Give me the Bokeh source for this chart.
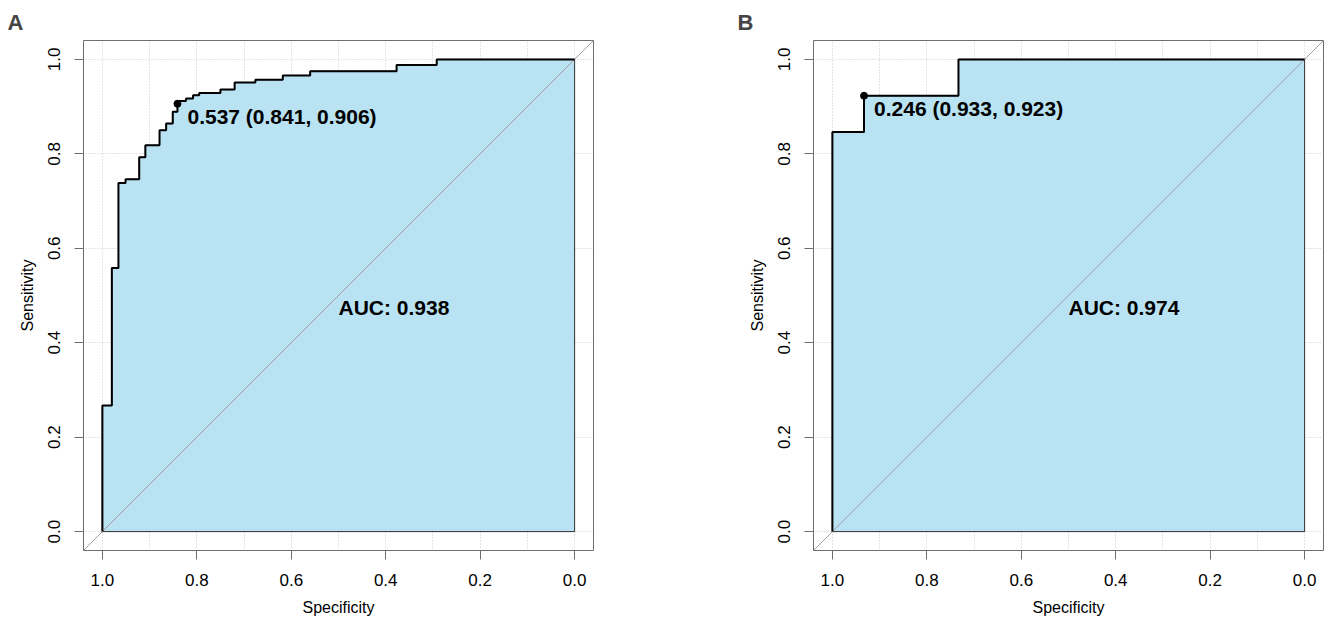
from bokeh.plotting import figure
from bokeh.layouts import row
from bokeh.models import Range1d, FixedTicker
from bokeh.core.properties import value
from bokeh.embed import file_html
from bokeh.resources import INLINE

# ---------------- data ----------------
# Panel A: ROC curve step vertices (specificity, sensitivity)
spec_a = [1.000, 1.000, 0.980, 0.980, 0.966, 0.966, 0.951, 0.951, 0.922, 0.922,
          0.909, 0.909, 0.879, 0.879, 0.865, 0.865, 0.851, 0.851, 0.841, 0.841,
          0.823, 0.823, 0.808, 0.808, 0.795, 0.795, 0.750, 0.750, 0.720, 0.720,
          0.676, 0.676, 0.618, 0.618, 0.560, 0.560, 0.377, 0.377, 0.292, 0.292,
          0.000]
sens_a = [0.000, 0.267, 0.267, 0.558, 0.558, 0.738, 0.738, 0.746, 0.746, 0.793,
          0.793, 0.818, 0.818, 0.850, 0.850, 0.864, 0.864, 0.889, 0.889, 0.912,
          0.912, 0.917, 0.917, 0.924, 0.924, 0.929, 0.929, 0.936, 0.936, 0.951,
          0.951, 0.957, 0.957, 0.966, 0.966, 0.975, 0.975, 0.988, 0.988, 1.000,
          1.000]
thr_a = (0.537, 0.841, 0.906)   # threshold, specificity, sensitivity
auc_a = 0.938

# Panel B
spec_b = [1.000, 1.000, 0.933, 0.933, 0.733, 0.733, 0.000]
sens_b = [0.000, 0.846, 0.846, 0.923, 0.923, 1.000, 1.000]
thr_b = (0.246, 0.933, 0.923)
auc_b = 0.974

axis_ticks = [0.0, 0.2, 0.4, 0.6, 0.8, 1.0]
tick_labels = ["0.0", "0.2", "0.4", "0.6", "0.8", "1.0"]
xgrid_ticks = [0.0, 0.1, 0.2, 0.3, 0.4, 0.5, 0.6, 0.7, 0.8, 0.9, 1.0]
panel_labels = ["A", "B"]

FONT = "Liberation Sans"
FILL = "#B9E2F2"
GRAY = "#6e6e6e"


def make_panel(label, spec, sens, thr, auc, width, border_right):
    p = figure(width=width, height=622,
               x_range=Range1d(1.04, -0.04), y_range=Range1d(-0.04, 1.04),
               output_backend="svg", toolbar_location=None,
               min_border_left=83, min_border_right=border_right,
               min_border_top=40, min_border_bottom=72,
               x_axis_label="Specificity", y_axis_label="Sensitivity")
    p.title.text = label
    p.title.align = "left"
    p.title.offset = -76
    p.title.text_font = FONT
    p.title.text_font_size = "22px"
    p.title.text_font_style = "bold"
    p.title.standoff = 11

    p.outline_line_color = GRAY
    p.outline_line_width = 1
    p.background_fill_color = "white"
    p.border_fill_color = "white"

    for ax in (p.xaxis[0], p.yaxis[0]):
        ax.ticker = FixedTicker(ticks=axis_ticks)
        ax.major_label_overrides = {t: s for t, s in zip(axis_ticks, tick_labels)}
        ax.axis_line_color = None
        ax.major_tick_line_color = GRAY
        ax.major_tick_out = 9
        ax.major_tick_in = 0
        ax.minor_tick_line_color = None
        ax.major_label_text_font = FONT
        ax.major_label_text_font_size = "17px"
        ax.major_label_text_color = "black"
        ax.major_label_standoff = 14
        ax.axis_label_text_font = FONT
        ax.axis_label_text_font_size = "16px"
        ax.axis_label_text_font_style = "normal"
        ax.axis_label_text_color = "black"
        ax.axis_label_standoff = 10
    p.yaxis[0].major_label_orientation = "vertical"

    p.xgrid.ticker = FixedTicker(ticks=xgrid_ticks)
    p.ygrid.ticker = FixedTicker(ticks=axis_ticks)
    for g in (p.xgrid[0], p.ygrid[0]):
        g.grid_line_color = "#c8c8c8"
        g.grid_line_dash = "1 2"
        g.grid_line_width = 1

    # AUC polygon
    poly_x = spec + [spec[-1]]
    poly_y = sens + [sens[0]]
    p.patch(poly_x, poly_y, fill_color=FILL, line_color="#303030", line_width=1)

    # identity line across the whole frame
    xr = p.x_range
    p.line([xr.start, xr.end], [1 - xr.start, 1 - xr.end],
           line_color="#a0a0a0", line_width=1)

    # ROC curve
    p.line(spec, sens, line_color="black", line_width=2)

    # best threshold
    p.scatter([thr[1]], [thr[2]], size=7, color="black")
    p.text(x=[thr[1]], y=[thr[2]],
           text=[f"{thr[0]:.3f} ({thr[1]:.3f}, {thr[2]:.3f})"],
           x_offset=10, y_offset=13, text_align="left", text_baseline="middle",
           text_font=value(FONT), text_font_size="21px", text_font_style="bold",
           text_color="black")

    # AUC
    p.text(x=[0.5], y=[0.5], text=[f"AUC: {auc:.3f}"],
           text_align="left", text_baseline="top",
           text_font=value(FONT), text_font_size="21px", text_font_style="bold",
           text_color="black")
    return p


pa = make_panel(panel_labels[0], spec_a, sens_a, thr_a, auc_a, 730, 137)
pb = make_panel(panel_labels[1], spec_b, sens_b, thr_b, auc_b, 595, 2)

layout = row(pa, pb)
open("out.html", "w").write(file_html(layout, INLINE))
